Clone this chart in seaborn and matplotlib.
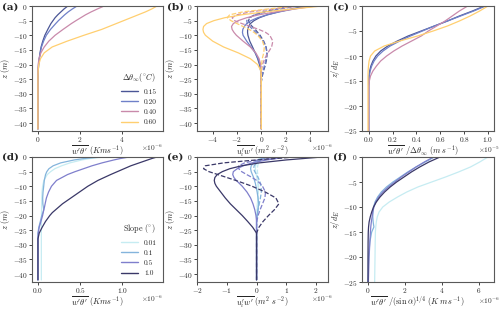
import matplotlib
matplotlib.use("Agg")
import matplotlib.pyplot as plt
from matplotlib.lines import Line2D
import seaborn as sns
import numpy as np

sns.set_theme(style="ticks")
plt.rcParams["font.family"] = ["cmr10", "DejaVu Serif"]
plt.rcParams["mathtext.fontset"] = "cm"
plt.rcParams["axes.formatter.use_mathtext"] = True
plt.rcParams["axes.unicode_minus"] = True

# ---- data (values in units of the x10^n factor printed under each axis) ----
dtheta_labels = ["0.15", "0.20", "0.40", "0.60"]
dtheta_colors = ["#4b5696", "#6f80c8", "#c98aab", "#ffcf70"]
slope_labels = ["0.01", "0.1", "0.5", "1.0"]
slope_colors = ["#c6ecf2", "#84b4dc", "#7f7fcc", "#3a3868"]

# (a) heat flux vs depth, x1e-6
z_a = [0, -1, -2, -3, -4, -5, -6, -8, -10, -12, -14, -16, -18, -20, -22, -24, -26, -30, -42]
wt_015 = [1.43, 1.25, 1.1, 0.95, 0.82, 0.72, 0.62, 0.47, 0.33, 0.23, 0.15, 0.1, 0.06, 0.03, 0.015, 0.005, 0, 0, 0]
wt_020 = [1.87, 1.65, 1.45, 1.28, 1.13, 0.98, 0.85, 0.6, 0.4, 0.27, 0.17, 0.11, 0.07, 0.035, 0.015, 0.005, 0, 0, 0]
wt_040 = [3.17, 2.85, 2.55, 2.28, 2.05, 1.82, 1.6, 1.2, 0.82, 0.52, 0.3, 0.14, 0.05, 0.01, 0, 0, 0, 0, 0]
wt_060 = [5.7, 5.45, 5.15, 4.8, 4.45, 4.1, 3.75, 3.05, 2.2, 1.4, 0.68, 0.3, 0.12, 0.04, 0.01, 0, 0, 0, 0]

# (b) momentum flux, solid and dashed, x1e-6
z_b = [0, -1, -2, -3, -4, -5, -6, -7, -8, -9, -10, -12, -14, -16, -18, -20, -22, -24, -26, -30, -42]
uw_015 = [3.7, 2.5, 1.4, 0.5, -0.15, -0.6, -0.9, -1.05, -1.12, -1.13, -1.1, -0.95, -0.72, -0.5, -0.3, -0.15, -0.06, -0.01, 0, 0, 0]
vw_015 = [2.6, 1.3, 0.2, -0.55, -0.95, -1.05, -0.95, -0.75, -0.5, -0.3, -0.1, 0.2, 0.4, 0.48, 0.45, 0.35, 0.2, 0.08, 0, 0, 0]
uw_020 = [4.0, 2.7, 1.5, 0.5, -0.3, -0.85, -1.2, -1.4, -1.52, -1.55, -1.5, -1.2, -0.85, -0.5, -0.25, -0.1, -0.03, 0, 0, 0, 0]
vw_020 = [3.0, 1.6, 0.4, -0.5, -1.0, -1.2, -1.15, -0.95, -0.7, -0.45, -0.2, 0.15, 0.38, 0.45, 0.4, 0.28, 0.15, 0.05, 0, 0, 0]
uw_040 = [4.5, 2.8, 1.2, -0.2, -1.2, -1.9, -2.3, -2.45, -2.4, -2.25, -2.05, -1.5, -0.9, -0.45, -0.18, -0.05, 0, 0, 0, 0, 0]
vw_040 = [3.2, 1.0, -0.9, -2.0, -2.4, -2.2, -1.6, -0.9, -0.2, 0.35, 0.7, 0.95, 0.85, 0.55, 0.28, 0.1, 0.02, 0, 0, 0, 0]
uw_060 = [5.0, 2.6, 0.3, -1.6, -3.0, -3.9, -4.5, -4.75, -4.8, -4.75, -4.6, -4.0, -3.1, -1.9, -0.9, -0.3, -0.05, 0, 0, 0, 0]
vw_060 = [2.8, 0.6, -1.5, -2.6, -2.8, -2.5, -2.0, -1.5, -1.0, -0.6, -0.3, 0.1, 0.25, 0.2, 0.08, 0.02, 0, 0, 0, 0, 0]

# (c) normalised heat flux vs z/dE, x1e-5
z_c = [0, -1, -2, -3, -4, -5, -6, -7, -8, -9, -10, -11, -12, -13, -14, -15, -16, -18, -25]
wtn_015 = [0.97, 0.87, 0.76, 0.66, 0.55, 0.44, 0.33, 0.24, 0.16, 0.1, 0.06, 0.035, 0.018, 0.008, 0.003, 0.001, 0, 0, 0]
wtn_020 = [0.98, 0.88, 0.77, 0.66, 0.55, 0.45, 0.35, 0.26, 0.18, 0.12, 0.075, 0.045, 0.025, 0.012, 0.005, 0.002, 0, 0, 0]
wtn_040 = [0.83, 0.76, 0.7, 0.64, 0.57, 0.5, 0.44, 0.36, 0.28, 0.21, 0.15, 0.1, 0.065, 0.035, 0.015, 0.005, 0.001, 0, 0]
wtn_060 = [1.0, 0.93, 0.85, 0.76, 0.66, 0.54, 0.41, 0.26, 0.13, 0.05, 0.015, 0.003, -0.002, -0.005, -0.006, -0.006, -0.006, -0.006, -0.006]

# (d) heat flux for slopes, x1e-6
z_d = [0, -0.5, -1, -2, -3, -4, -5, -6, -8, -10, -12, -14, -16, -17, -18, -19, -20, -22, -24, -26, -28, -42]
ws_001 = [0.78, 0.62, 0.52, 0.38, 0.28, 0.2, 0.15, 0.11, 0.07, 0.055, 0.048, 0.045, 0.044, 0.043, 0.043, 0.042, 0.042, 0.041, 0.04, 0.04, 0.04, 0.04]
ws_01 = [0.74, 0.55, 0.43, 0.27, 0.18, 0.13, 0.105, 0.09, 0.075, 0.068, 0.06, 0.056, 0.058, 0.064, 0.068, 0.058, 0.045, 0.028, 0.01, 0.0, 0, 0]
ws_05 = [1.08, 0.98, 0.9, 0.76, 0.64, 0.54, 0.44, 0.35, 0.22, 0.16, 0.125, 0.1, 0.085, 0.078, 0.07, 0.062, 0.055, 0.035, 0.015, 0.003, 0, 0]
ws_10 = [1.41, 1.35, 1.3, 1.2, 1.1, 1.02, 0.94, 0.86, 0.71, 0.59, 0.49, 0.39, 0.29, 0.25, 0.21, 0.17, 0.14, 0.09, 0.05, 0.015, 0.0, 0]

# (e) momentum flux for slopes, x1e-6 (same depths as b)
us_001 = [0.12, 0.05, 0.0, -0.03, -0.04, -0.03, -0.01, 0.01, 0.03, 0.04, 0.05, 0.05, 0.04, 0.03, 0.02, 0.01, 0, 0, 0, 0, 0]
vs_001 = [0.15, 0.1, 0.06, 0.04, 0.03, 0.03, 0.04, 0.05, 0.06, 0.07, 0.07, 0.06, 0.05, 0.03, 0.02, 0.01, 0, 0, 0, 0, 0]
us_01 = [0.3, 0.05, -0.1, -0.18, -0.2, -0.18, -0.14, -0.1, -0.07, -0.04, -0.02, 0.02, 0.05, 0.07, 0.05, 0.02, 0, 0, 0, 0, 0]
vs_01 = [0.35, 0.15, 0.0, -0.08, -0.1, -0.06, 0.0, 0.05, 0.1, 0.13, 0.15, 0.16, 0.13, 0.09, 0.05, 0.02, 0, 0, 0, 0, 0]
us_05 = [1.0, 0.35, -0.15, -0.45, -0.65, -0.78, -0.8, -0.76, -0.68, -0.58, -0.48, -0.32, -0.2, -0.12, -0.06, -0.02, 0, 0, 0, 0, 0]
vs_05 = [0.7, 0.05, -0.4, -0.6, -0.6, -0.5, -0.33, -0.15, 0.0, 0.12, 0.2, 0.3, 0.28, 0.2, 0.12, 0.05, 0.01, 0, 0, 0, 0]
us_10 = [2.2, 1.0, 0.1, -0.5, -0.9, -1.15, -1.32, -1.4, -1.42, -1.4, -1.35, -1.2, -1.05, -0.88, -0.68, -0.48, -0.3, -0.13, 0, 0, 0]
vs_10 = [1.3, 0.0, -1.1, -1.72, -1.78, -1.6, -1.3, -1.0, -0.7, -0.42, -0.15, 0.3, 0.65, 0.75, 0.6, 0.4, 0.22, 0.08, 0, 0, 0]

# (f) slope-normalised heat flux vs z/dE, x1e-6
z_f = [0, -1, -2, -3, -4, -5, -6, -7, -8, -9, -10, -11, -12, -13, -14, -15, -17, -20, -25]
wsn_001 = [6.5, 6.05, 5.55, 4.9, 4.2, 3.45, 2.7, 2.1, 1.6, 1.15, 0.8, 0.6, 0.5, 0.45, 0.42, 0.4, 0.39, 0.38, 0.36]
wsn_01 = [3.6, 3.1, 2.6, 2.15, 1.75, 1.35, 1.0, 0.72, 0.52, 0.38, 0.3, 0.27, 0.26, 0.28, 0.32, 0.2, 0.1, 0.03, 0]
wsn_05 = [3.55, 3.05, 2.6, 2.2, 1.8, 1.45, 1.1, 0.8, 0.58, 0.42, 0.32, 0.26, 0.22, 0.18, 0.15, 0.13, 0.1, 0.06, 0.02]
wsn_10 = [3.9, 3.3, 2.8, 2.35, 1.95, 1.55, 1.2, 0.9, 0.65, 0.45, 0.3, 0.2, 0.12, 0.06, 0.03, 0.015, 0.005, 0, 0]

fig = plt.figure(figsize=(5, 3.1), dpi=100)
W, H = 500, 310
cols = [(32, 163), (197, 328), (362, 494)]
rows = [(6, 131), (157, 282)]
axes = []
for (t, b) in rows:
    for (l, r) in cols:
        axes.append(fig.add_axes([l / W, 1 - b / H, (r - l) / W, (b - t) / H]))
ax_a, ax_b, ax_c, ax_d, ax_e, ax_f = axes


def profile(ax, x, z, color, ls="-"):
    sns.lineplot(x=x, y=z, ax=ax, sort=False, estimator=None,
                 color=color, linestyle=ls, linewidth=0.9)


for vals, c in zip([wt_015, wt_020, wt_040, wt_060], dtheta_colors):
    profile(ax_a, vals, z_a, c)
for u, v, c in zip([uw_015, uw_020, uw_040, uw_060], [vw_015, vw_020, vw_040, vw_060], dtheta_colors):
    profile(ax_b, u, z_b, c)
    profile(ax_b, v, z_b, c, "--")
for vals, c in zip([wtn_015, wtn_020, wtn_040, wtn_060], dtheta_colors):
    profile(ax_c, vals, z_c, c)
for vals, c in zip([ws_001, ws_01, ws_05, ws_10], slope_colors):
    profile(ax_d, vals, z_d, c)
for u, v, c in zip([us_001, us_01, us_05, us_10], [vs_001, vs_01, vs_05, vs_10], slope_colors):
    profile(ax_e, u, z_b, c)
    profile(ax_e, v, z_b, c, "--")
for vals, c in zip([wsn_001, wsn_01, wsn_05, wsn_10], slope_colors):
    profile(ax_f, vals, z_f, c)

LFS = 6.0
TFS = 5.3
wt_label = r"$\overline{w'\theta'}\ (Kms^{-1})$"
uw_label = r"$\overline{u_i'w'}\ (m^2\ s^{-2})$"
for ax in [ax_a, ax_b, ax_d, ax_e]:
    ax.set_ylim(-42.7, 0)
    ax.set_yticks([0, -5, -10, -15, -20, -25, -30, -35, -40])
    ax.set_ylabel(r"$z\ (m)$", fontsize=LFS)
for ax in [ax_c, ax_f]:
    ax.set_ylim(-25, 0)
    ax.set_yticks([0, -5, -10, -15, -20, -25])
    ax.set_ylabel(r"$z/d_E$", fontsize=LFS)

ax_a.set_xlabel(wt_label, fontsize=LFS)
ax_d.set_xlabel(wt_label, fontsize=LFS)
ax_b.set_xlabel(uw_label, fontsize=LFS)
ax_e.set_xlabel(uw_label, fontsize=LFS)
ax_c.set_xlabel(r"$\overline{w'\theta'}\ /\Delta\theta_\infty\ (m\ s^{-1})$", fontsize=LFS)
ax_f.set_xlabel(r"$\overline{w'\theta'}\ /(\sin\alpha)^{1/4}\ (K\,m\,s^{-1})$", fontsize=LFS)

ax_a.set_xticks([0, 2, 4])
ax_b.set_xticks([-4, -2, 0, 2, 4])
ax_c.set_xticks([0, 0.2, 0.4, 0.6, 0.8, 1.0])
ax_d.set_xticks([0, 0.5, 1.0])
ax_e.set_xticks([-2, -1, 0, 1, 2])
ax_f.set_xticks([0, 2, 4, 6])

LY = -0.1
for ax in axes:
    ax.tick_params(labelsize=TFS, length=2.0, width=0.6, pad=1.0)
    ax.yaxis.set_label_coords(-0.155, 0.5)
    ax.xaxis.set_label_coords(0.5, LY)
    for s in ax.spines.values():
        s.set_linewidth(0.8)
        s.set_color("0.35")
ax_f.xaxis.set_label_coords(0.42, LY)
ax_c.xaxis.set_label_coords(0.46, LY)

# scale factors printed at the lower right of each axis
for ax, exp, xo, yo in [(ax_a, -6, 1.0, -0.095), (ax_b, -6, 1.04, -0.095), (ax_c, -5, 1.045, -0.11),
                        (ax_d, -6, 1.0, -0.095), (ax_e, -6, 1.04, -0.095), (ax_f, -6, 1.045, -0.11)]:
    ax.text(xo, yo, r"$\times10^{%d}$" % exp, transform=ax.transAxes, ha="right", va="top",
            fontsize=TFS, color="0.2")

h_a = [Line2D([], [], color=c, lw=1) for c in dtheta_colors]
ax_a.legend(h_a, dtheta_labels, title=r"$\Delta\theta_\infty (^{\circ}C)$", frameon=False,
            loc="lower right", fontsize=5.3, title_fontsize=5.8, handlelength=2.4,
            labelspacing=0.55, borderaxespad=0.4)
h_d = [Line2D([], [], color=c, lw=1) for c in slope_colors]
ax_d.legend(h_d, slope_labels, title=r"Slope $(^{\circ})$", frameon=False,
            loc="lower right", fontsize=5.3, title_fontsize=5.8, handlelength=2.4,
            labelspacing=0.55, borderaxespad=0.4)

for lab, x, y in zip(["(a)", "(b)", "(c)", "(d)", "(e)", "(f)"],
                     [2, 167, 333, 2, 167, 333], [3, 3, 3, 153, 153, 153]):
    fig.text(x / W, 1 - y / H, lab, fontsize=7.5, fontweight="bold",
             family="DejaVu Serif", va="top", ha="left")

fig.savefig("out.png", dpi=100)
